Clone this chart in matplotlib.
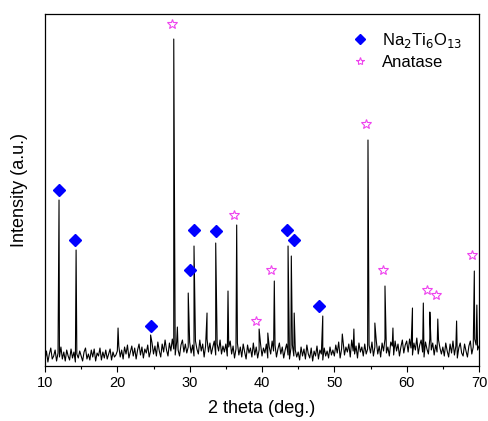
import numpy as np
import matplotlib
matplotlib.use('Agg')
import matplotlib.pyplot as plt
from matplotlib.ticker import MultipleLocator

plt.rcParams['font.family'] = ['Liberation Sans', 'DejaVu Sans']

# 2 theta grid of the baseline (0.2 deg steps) and noisy background
two_theta = np.arange(0, 301) * 0.2 + 10
background = [
    6, 15, 4, 12, 18, 7, 10, 16, 5, 13, 9, 19, 7, 14, 5, 16, 10, 6, 17, 8, 14, 4, 12, 8, 15,
    10, 5, 14, 18, 7, 12, 6, 16, 9, 17, 5, 13, 10, 18, 6, 14, 8, 16, 7, 12, 17, 6, 14, 9, 11,
    15, 20, 9, 16, 7, 19, 12, 21, 8, 14, 20, 10, 18, 7, 16, 22, 11, 19, 8, 17, 13, 21, 9, 15, 23,
    12, 20, 10, 24, 15, 9, 22, 14, 26, 16, 10, 23, 15, 27, 17, 11, 24, 16, 10, 21, 26, 14, 22, 13, 19,
    24, 13, 21, 10, 25, 17, 12, 26, 15, 22, 9, 20, 27, 14, 23, 12, 19, 25, 11, 22, 15, 26, 12, 20, 14,
    22, 10, 19, 25, 12, 20, 8, 17, 23, 11, 19, 9, 22, 14, 7, 21, 13, 18, 9, 23, 11, 19, 8, 16, 22,
    10, 18, 13, 22, 8, 19, 12, 25, 15, 21, 9, 17, 23, 12, 19, 8, 16, 22, 11, 7, 18, 21, 10, 16, 9,
    14, 6, 19, 10, 17, 7, 21, 12, 8, 18, 5, 15, 10, 20, 7, 16, 12, 6, 18, 10, 15, 8, 19, 11, 16,
    10, 21, 13, 24, 8, 17, 25, 11, 19, 14, 22, 9, 26, 15, 12, 20, 8, 23, 14, 19, 10, 22, 12, 17, 21,
    13, 24, 10, 19, 25, 12, 20, 9, 23, 15, 27, 13, 19, 10, 24, 20, 11, 25, 15, 22, 10, 19, 26, 13, 21,
    25, 14, 27, 18, 11, 23, 16, 28, 12, 21, 26, 14, 9, 24, 17, 12, 27, 16, 23, 11, 21, 14, 26, 18, 12,
    19, 10, 23, 15, 9, 22, 13, 25, 11, 20, 8, 18, 23, 13, 10, 22, 15, 9, 20, 25, 12, 19, 27, 21, 16,
    20,
]

# peak tops
peak_pos = [11.94, 14.3, 20.1, 24.6, 27.8, 28.3, 29.8, 30.6, 32.4, 33.6, 35.3, 36.5,
            39.6, 40.8, 41.7, 43.6, 44.05, 44.45, 48.4, 51.1, 52.7, 54.65, 55.6, 57.0,
            58.1, 60.8, 62.3, 63.2, 64.3, 66.9, 69.35, 69.7]
peak_int = [166, 116, 38, 31, 327, 39, 73, 120, 53, 123, 75, 141,
            37, 33, 85, 120, 110, 53, 50, 32, 37, 226, 43, 80,
            38, 58, 63, 54, 47, 45, 95, 61]

# phase markers
nto_x = [11.94, 14.15, 24.65, 30.05, 30.6, 33.6, 43.46, 44.4, 47.9]
nto_y = [176, 126, 40, 96, 136, 135, 136, 126, 60]
ana_x = [27.56, 36.13, 39.2, 41.25, 54.38, 56.7, 62.8, 64.05, 69.0]
ana_y = [342, 151, 45, 96, 242, 96, 76, 71, 111]

x = np.concatenate([two_theta, peak_pos])
y = np.concatenate([background, peak_int])
order = np.argsort(x, kind='stable')
x, y = x[order], y[order]

fig = plt.figure(figsize=(4.88, 4.21), dpi=100)
ax = fig.add_axes([0.0922, 0.1306, 0.8894, 0.8361])
ax.plot(x, y, color='black', lw=0.8)
ax.plot(nto_x, nto_y, 'D', color='#0000ff', ms=6, ls='none', label='Na$_2$Ti$_6$O$_{13}$')
ax.plot(ana_x, ana_y, '*', mfc='none', mec='#ee44ee', mew=0.8, ms=7.5, ls='none', label='Anatase')

ax.set_xlim(10, 70)
ax.set_ylim(0, 352)
ax.xaxis.set_major_locator(MultipleLocator(10))
ax.xaxis.set_minor_locator(MultipleLocator(5))
ax.tick_params(axis='x', which='major', direction='out', length=4, width=0.8, labelsize=10.5)
ax.tick_params(axis='x', which='minor', direction='out', length=2.5, width=0.8)
ax.set_yticks([])
for s in ax.spines.values():
    s.set_linewidth(0.9)
ax.set_xlabel('2 theta (deg.)', fontsize=13, labelpad=7)
ax.set_ylabel('Intensity (a.u.)', fontsize=13, labelpad=12)
ax.legend(loc='upper right', frameon=False, fontsize=12, markerscale=0.8,
          handletextpad=0.3, borderaxespad=0.6, labelspacing=0.3)

fig.savefig('out.png', dpi=100)
